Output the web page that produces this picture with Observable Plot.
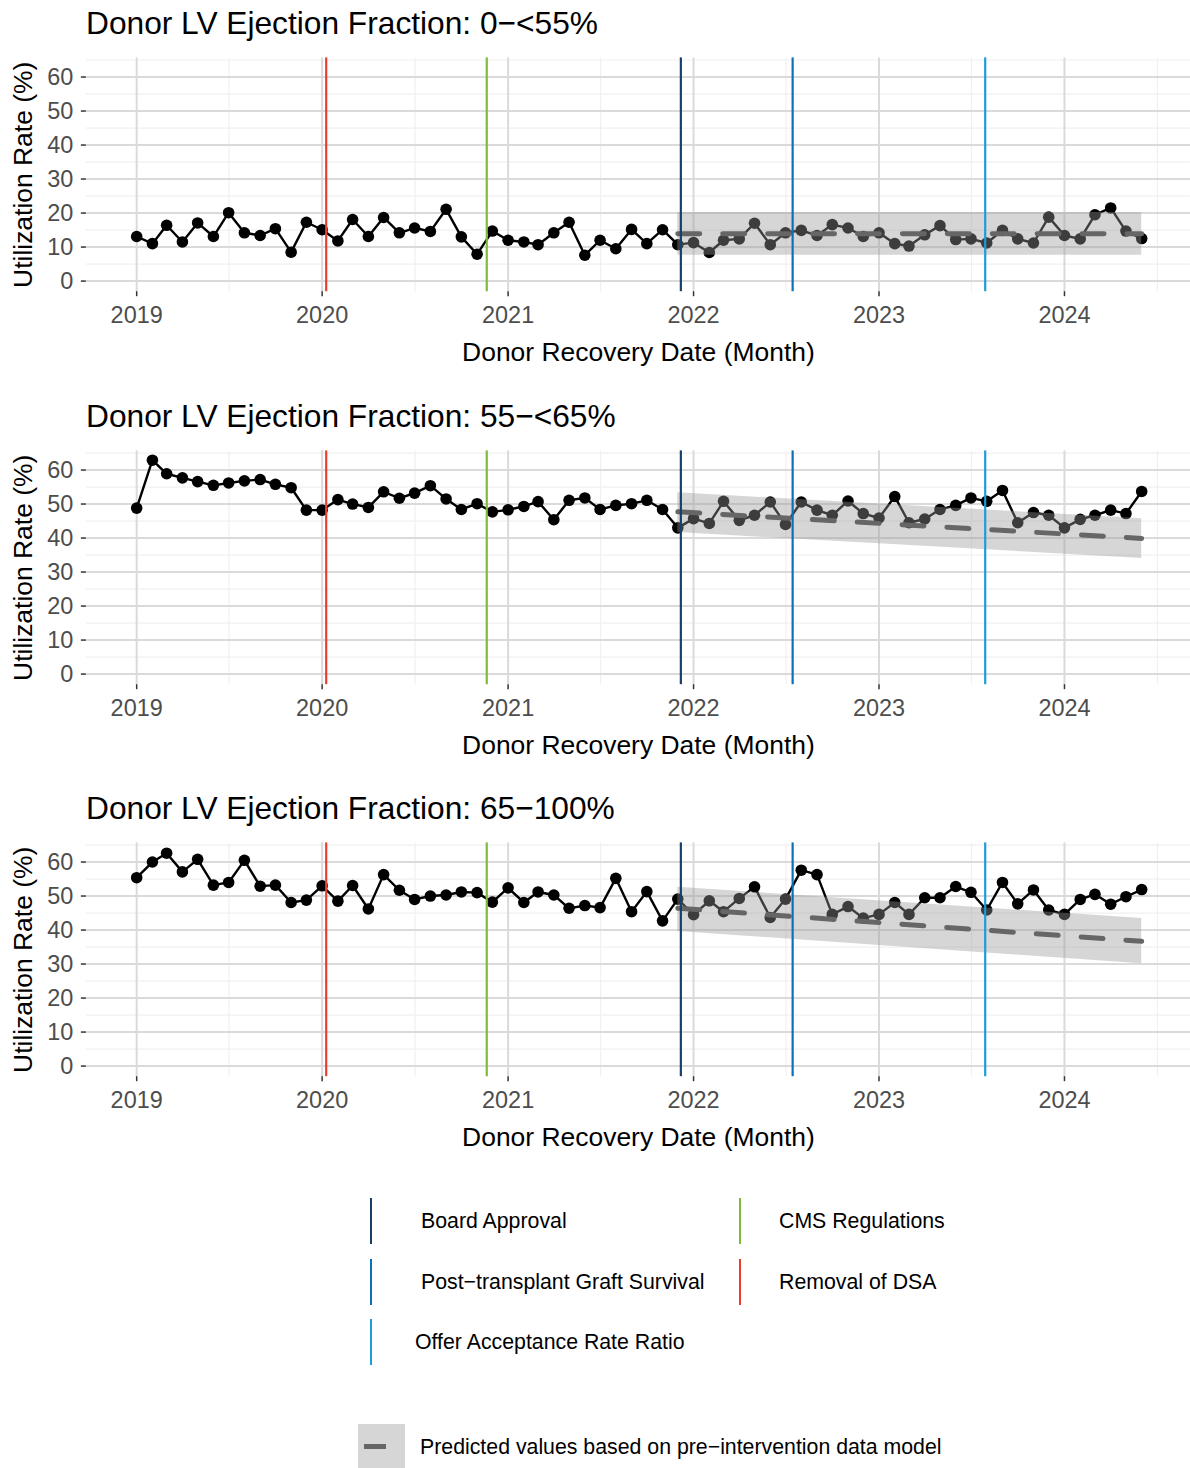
<!DOCTYPE html>
<html>
<head>
<meta charset="utf-8">
<script src="https://cdn.jsdelivr.net/npm/d3@7"></script>
<script src="https://cdn.jsdelivr.net/npm/@observablehq/plot@0.6"></script>
<style>
  html, body { margin: 0; padding: 0; background: #fff; overflow: hidden; width: 1190px; height: 1468px; }
  body { position: relative; font-family: "Liberation Sans", Arial, Helvetica, sans-serif; color: #000; }
  .panel { position: absolute; left: 0; width: 1190px; height: 392px; overflow: hidden; }
  .panel svg { position: absolute; left: 0; top: 0; }
  .ptitle { position: absolute; left: 86px; top: 5px; font-size: 31.7px; line-height: 36px; white-space: nowrap; z-index: 2; }
  .lg-line { position: absolute; width: 2px; height: 46px; }
  .lg-text { position: absolute; font-size: 21.3px; line-height: 24px; white-space: nowrap; }
</style>
</head>
<body>
<div id="root"></div>
<script>
// ---------------- data ----------------
const panelTitles = [
  "Donor LV Ejection Fraction: 0\u2212<55%",
  "Donor LV Ejection Fraction: 55\u2212<65%",
  "Donor LV Ejection Fraction: 65\u2212100%"
];
const firstMonth = "2019-01-01";
const lastMonth = "2024-06-01";

const ef0_55 = [
  13.1, 11.0, 16.4, 11.5, 17.1, 13.1, 20.1, 14.2, 13.4, 15.4, 8.5, 17.3,
  15.1, 11.8, 18.1, 13.1, 18.7, 14.2, 15.6, 14.6, 21.1, 13.0, 7.9, 14.7,
  12.0, 11.5, 10.7, 14.2, 17.3, 7.6, 12.0, 9.5, 15.2, 11.0, 15.1, 10.7,
  11.3, 8.4, 12.0, 12.4, 17.0, 10.7, 14.2, 14.9, 13.4, 16.6, 15.6, 13.1,
  14.2, 11.0, 10.3, 13.6, 16.3, 12.2, 12.4, 11.2, 14.9, 12.4, 11.2, 18.8,
  13.4, 12.4, 19.5, 21.5, 14.7, 12.5
];
const ef55_65 = [
  48.8, 62.9, 58.9, 57.7, 56.6, 55.5, 56.2, 56.8, 57.2, 55.8, 54.8, 48.2,
  48.2, 51.3, 50.0, 49.0, 53.6, 51.7, 53.2, 55.4, 51.5, 48.4, 50.1, 47.7,
  48.3, 49.3, 50.7, 45.4, 51.1, 51.8, 48.4, 49.6, 50.1, 51.1, 48.4, 43.0,
  45.7, 44.3, 50.8, 45.2, 46.7, 50.6, 44.0, 50.6, 48.2, 46.7, 50.9, 47.2,
  45.9, 52.2, 44.5, 45.6, 48.4, 49.6, 51.8, 50.8, 54.0, 44.5, 47.5, 46.7,
  43.0, 45.5, 46.7, 48.2, 47.2, 53.7
];
const ef65_100 = [
  55.4, 60.0, 62.6, 57.1, 60.8, 53.2, 54.0, 60.5, 52.9, 53.2, 48.1, 48.8,
  53.0, 48.5, 53.1, 46.2, 56.3, 51.7, 49.0, 50.0, 50.3, 51.2, 51.0, 48.2,
  52.4, 48.1, 51.2, 50.3, 46.4, 47.2, 46.6, 55.2, 45.4, 51.3, 42.7, 49.1,
  44.5, 48.6, 45.4, 49.3, 52.7, 43.7, 49.1, 57.6, 56.3, 44.6, 46.9, 43.5,
  44.6, 48.1, 44.6, 49.5, 49.5, 52.8, 51.1, 45.9, 54.0, 47.7, 51.8, 45.9,
  44.6, 49.0, 50.5, 47.6, 49.8, 51.9
];

// predicted (pre-intervention model) at start and end of the prediction window
const predDates = ["2021-12-01", "2024-06-01"];
const pred0_55 = [13.9, 13.9], lo0_55 = [7.6, 7.6], hi0_55 = [20.2, 20.2];
const pred55_65 = [47.7, 39.9], lo55_65 = [41.6, 34.0], hi55_65 = [53.3, 45.7];
const pred65_100 = [46.4, 36.7], lo65_100 = [39.6, 30.1], hi65_100 = [52.6, 43.4];

// interventions
const eventNames = ["Removal of DSA", "CMS Regulations", "Board Approval", "Post\u2212transplant Graft Survival", "Offer Acceptance Rate Ratio"];
const eventDates = ["2020-01-09", "2020-11-20", "2021-12-07", "2022-07-15", "2023-07-29"];
const eventColors = ["#E8402C", "#7CBB3E", "#173F6C", "#0B70BA", "#1D9CD8"];

// axis ticks / grid
const yMajor = [0, 10, 20, 30, 40, 50, 60];
const yMinor = [5, 15, 25, 35, 45, 55, 65];
const xMajorYears = ["2019-01-01", "2020-01-01", "2021-01-01", "2022-01-01", "2023-01-01", "2024-01-01"];
const xMinorDates = ["2019-07-02", "2020-07-02", "2021-07-02", "2022-07-02", "2023-07-02", "2024-07-02"];
const xDomain = ["2018-09-24", "2024-09-05"];
const yDomain = [-3.125, 65.625];

// ---------------- drawing ----------------
const FONT = '"Liberation Sans", Arial, Helvetica, sans-serif';
const D = s => new Date(s + "T00:00:00Z");
const months = d3.utcMonth.range(D(firstMonth), d3.utcMonth.offset(D(lastMonth), 1));

function makePanel(values, pred, lo, hi) {
  const series = months.map((d, i) => ({date: d, value: values[i]}));
  const band = predDates.map((d, i) => ({date: D(d), pred: pred[i], lo: lo[i], hi: hi[i]}));
  const marks = [
    Plot.ruleY(yMinor, {stroke: "#f0f0f0", strokeWidth: 1.2}),
    Plot.ruleX(xMinorDates.map(D), {stroke: "#f0f0f0", strokeWidth: 1.2}),
    Plot.ruleY(yMajor, {stroke: "#dadada", strokeWidth: 2}),
    Plot.ruleX(xMajorYears.map(D), {stroke: "#dadada", strokeWidth: 2}),
    Plot.axisX(xMajorYears.map(D), {tickSize: 5, tickPadding: 10, stroke: "#333", strokeWidth: 1.5, fill: "#4d4d4d", fontSize: 23.5, tickFormat: d3.utcFormat("%Y"), label: null}),
    Plot.axisY(yMajor, {tickSize: 5, tickPadding: 8, stroke: "#333", strokeWidth: 1.5, fill: "#4d4d4d", fontSize: 23.5, label: null}),
    Plot.text(["Donor Recovery Date (Month)"], {frameAnchor: "bottom", dy: 61, fontSize: 26.5, fill: "#000", lineAnchor: "middle", textAnchor: "middle"}),
    Plot.text(["Utilization Rate (%)"], {frameAnchor: "left", rotate: -90, dx: -63, fontSize: 26.5, fill: "#000", lineAnchor: "middle", textAnchor: "middle"}),
    Plot.line(series, {x: "date", y: "value", stroke: "#000", strokeWidth: 2.4}),
    Plot.dot(series, {x: "date", y: "value", r: 5.8, fill: "#000", stroke: "none"}),
    Plot.areaY(band, {x: "date", y1: "lo", y2: "hi", fill: "#999", fillOpacity: 0.4}),
    Plot.line(band, {x: "date", y: "pred", stroke: "#666", strokeWidth: 5, strokeDasharray: "22,23"}),
    ...eventDates.map((d, i) => Plot.ruleX([D(d)], {stroke: eventColors[i], strokeWidth: 2.2}))
  ];
  return Plot.plot({
    width: 1192,
    height: 392,
    marginLeft: 86,
    marginRight: 0,
    marginTop: 57.5,
    marginBottom: 100.3,
    style: {fontFamily: FONT, background: "transparent", overflow: "visible"},
    x: {type: "utc", domain: xDomain.map(D), axis: null},
    y: {domain: yDomain, axis: null},
    marks
  });
}

const root = document.getElementById("root");
const panelData = [
  [ef0_55, pred0_55, lo0_55, hi0_55],
  [ef55_65, pred55_65, lo55_65, hi55_65],
  [ef65_100, pred65_100, lo65_100, hi65_100]
];
const panelTops = [0, 392.5, 784.5];
panelData.forEach((p, i) => {
  const div = document.createElement("div");
  div.className = "panel";
  div.style.top = panelTops[i] + "px";
  div.appendChild(makePanel(...p));
  const t = document.createElement("div");
  t.className = "ptitle";
  t.textContent = panelTitles[i];
  div.appendChild(t);
  root.appendChild(div);
});

// ---------------- legend ----------------
const legendOrder = [2, 1, 3, 0, 4]; // Board, CMS, PTGS, DSA, Offer
const legendPos = [
  {lx: 370, tx: 421, cy: 1221},
  {lx: 739, tx: 779, cy: 1221},
  {lx: 370, tx: 421, cy: 1282},
  {lx: 739, tx: 779, cy: 1282},
  {lx: 370, tx: 415, cy: 1342}
];
legendOrder.forEach((ei, k) => {
  const pos = legendPos[k];
  const ln = document.createElement("div");
  ln.className = "lg-line";
  ln.style.left = pos.lx + "px";
  ln.style.top = (pos.cy - 23) + "px";
  ln.style.background = eventColors[ei];
  document.body.appendChild(ln);
  const tx = document.createElement("div");
  tx.className = "lg-text";
  tx.style.left = pos.tx + "px";
  tx.style.top = (pos.cy - 12) + "px";
  tx.textContent = eventNames[ei];
  document.body.appendChild(tx);
});
// predicted key
const key = document.createElement("div");
key.style.cssText = "position:absolute;left:358px;top:1424px;width:47px;height:50px;background:#d6d6d6;";
document.body.appendChild(key);
const keyDash = document.createElement("div");
keyDash.style.cssText = "position:absolute;left:364px;top:1444px;width:22px;height:5px;background:#666;";
document.body.appendChild(keyDash);
const keyText = document.createElement("div");
keyText.className = "lg-text";
keyText.style.left = "420px";
keyText.style.top = (1447 - 12) + "px";
keyText.textContent = "Predicted values based on pre\u2212intervention data model";
document.body.appendChild(keyText);
</script>
</body>
</html>
